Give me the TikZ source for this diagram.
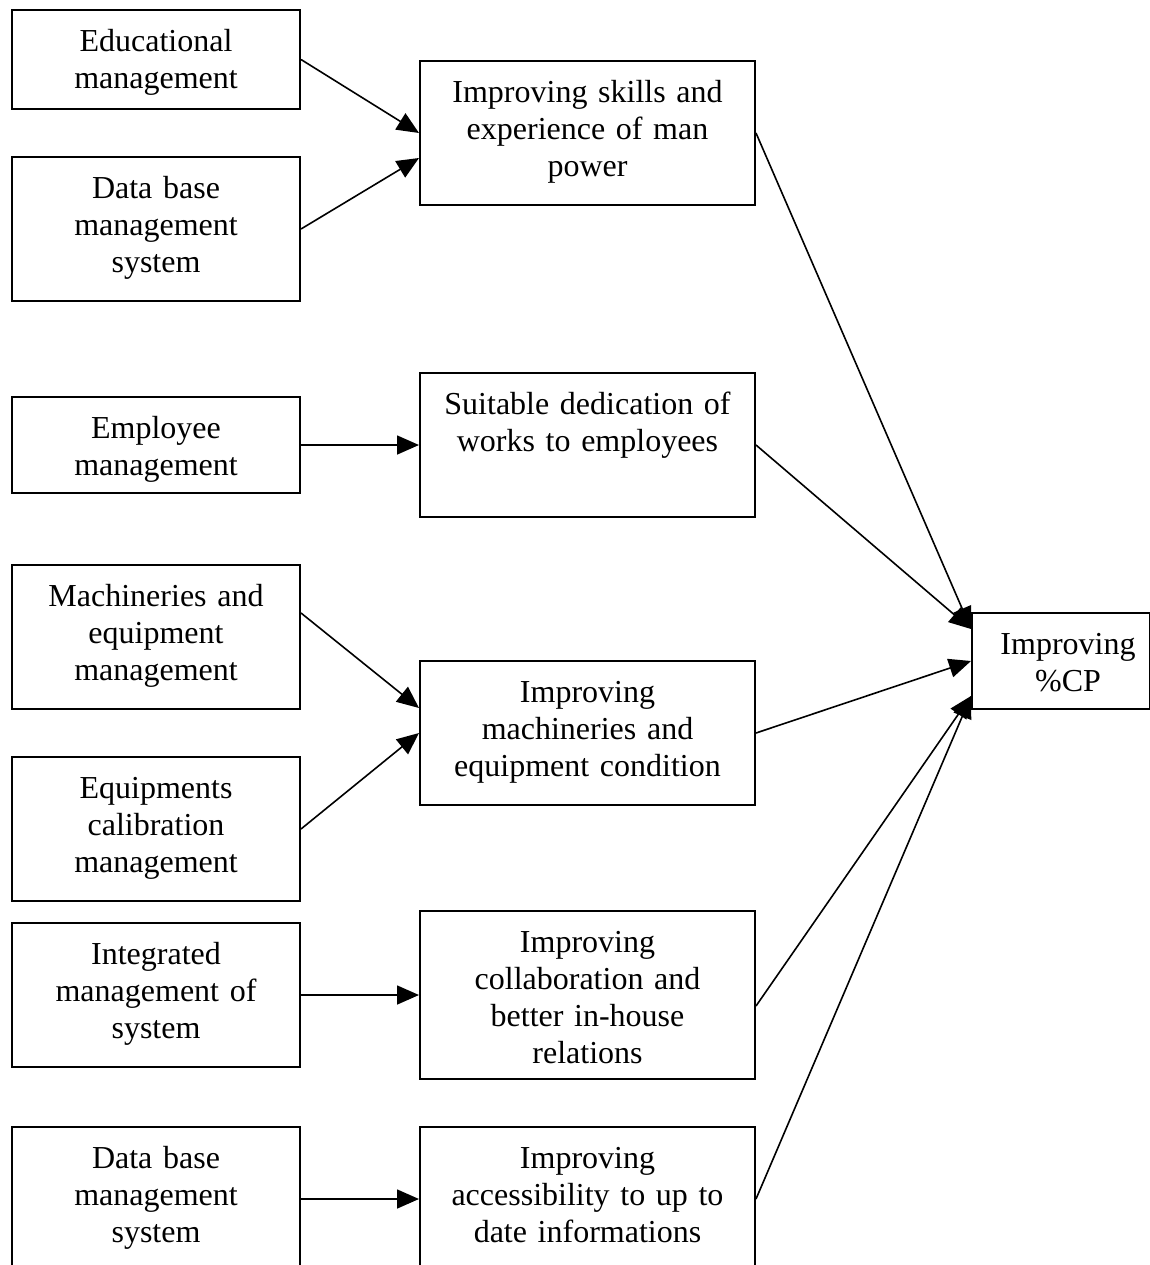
\documentclass[tikz,border=0pt]{standalone}
\usepackage{fontspec}
\setmainfont{Liberation Serif}
\usetikzlibrary{arrows.meta,positioning}

\begin{document}
\begin{tikzpicture}[x=0.5pt, y=-0.5pt,
    box/.style={draw, line width=1pt, inner sep=0pt, align=center, anchor=north west,
        font=\fontsize{16}{18.5}\selectfont, text height=20.5pt},
    lbox/.style={box, text width=144pt},
    mbox/.style={box, text width=167.5pt},
    link/.style={line width=0.8pt, -{Triangle[length=11pt,width=9.5pt]}}]
    \useasboundingbox (0,0) rectangle (1150,1265);

    % Management tools
    \node[lbox, text depth=29pt]   (edu)  at (11,9)    {Educational\\management};
    \node[lbox, text depth=51.5pt] (dbA)  at (11,156)  {Data base\\management\\system};
    \node[lbox, text depth=27.5pt] (emp)  at (11,396)  {Employee\\management};
    \node[lbox, text depth=51.5pt] (mach) at (11,564)  {Machineries and\\equipment\\management};
    \node[lbox, text depth=51.5pt] (cal)  at (11,756)  {Equipments\\calibration\\management};
    \node[lbox, text depth=51.5pt] (ims)  at (11,922)  {Integrated\\management of\\system};
    \node[lbox, text depth=51.5pt] (dbB)  at (11,1126) {Data base\\management\\system};

    % Effects
    \node[mbox, text depth=51.5pt] (skill)  at (419,60)   {Improving skills and\\experience of man\\power};
    \node[mbox, text depth=51.5pt] (works)  at (419,372)  {Suitable dedication of\\works to employees};
    \node[mbox, text depth=51.5pt] (cond)   at (419,660)  {Improving\\machineries and\\equipment condition};
    \node[mbox, text depth=63.5pt] (collab) at (419,910)  {Improving\\collaboration and\\better in-house\\relations};
    \node[mbox, text depth=51.5pt] (access) at (419,1126) {Improving\\accessibility to up to\\date informations};

    % Result
    \node[box, text width=89pt, text depth=27.5pt] (cp) at (971,612) {\hspace*{7pt}Improving\\\hspace*{7pt}\%CP};

    % Tools to effects
    \draw[link] (edu.east) -- (skill.west);
    \draw[link] (dbA.east) -- ([yshift=-12.5pt]skill.west);
    \draw[link] (emp.east) -- (works.west);
    \draw[link] ([yshift=12pt]mach.east) -- ([yshift=12.5pt]cond.west);
    \draw[link] (cal.east) -- (cond.west);
    \draw[link] (ims.east) -- (collab.west);
    \draw[link] (dbB.east) -- (access.west);

    % Effects to result
    \draw[link] (skill.east) -- ([yshift=16pt]cp.west);
    \draw[link] (works.east) -- ([yshift=16pt]cp.west);
    \draw[link] (cond.east) -- (cp.west);
    \draw[link] ([yshift=-5.5pt]collab.east) -- ([yshift=-17.5pt]cp.west);
    \draw[link] (access.east) -- ([yshift=-17.5pt]cp.west);
\end{tikzpicture}
\end{document}
